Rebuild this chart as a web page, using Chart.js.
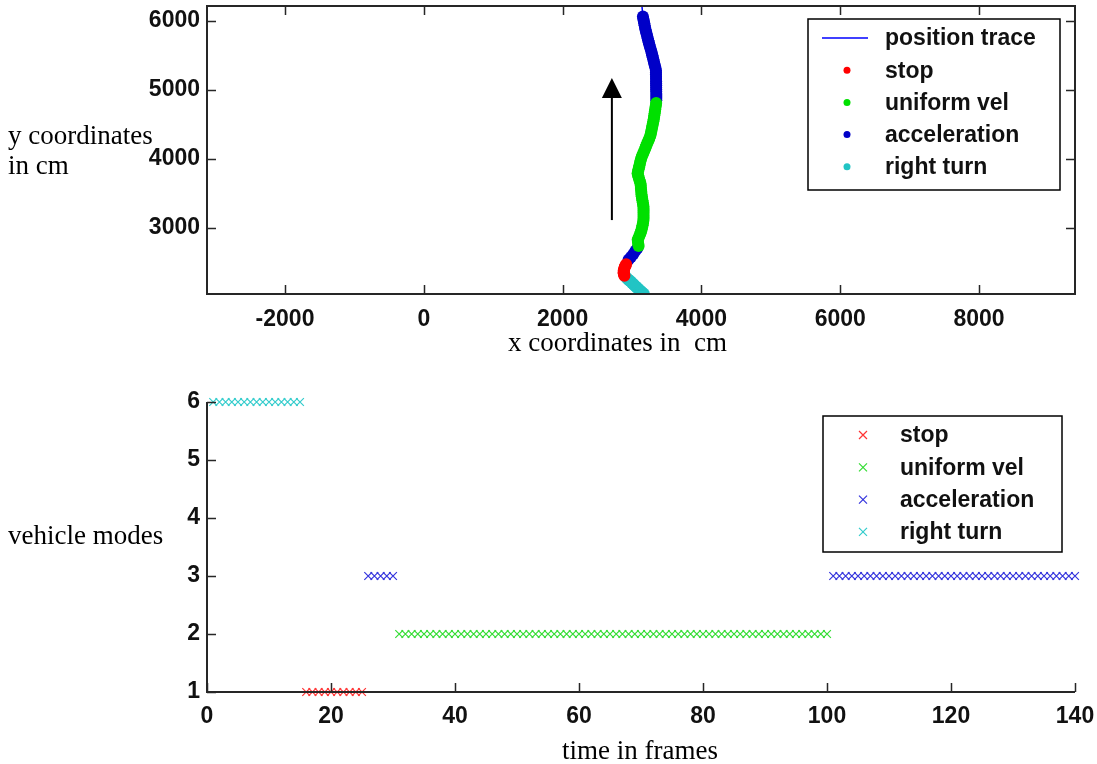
<!DOCTYPE html>
<html>
<head>
<meta charset="utf-8">
<script src="https://cdn.jsdelivr.net/npm/chart.js@4.4.0/dist/chart.umd.min.js"></script>
<style>
  body { margin: 0; background: #fff; width: 1097px; height: 764px; position: relative; overflow: hidden; }
  .wrap { position: absolute; left: 0; width: 1097px; }
  .lbl { position: absolute; font-family: "Liberation Serif", "Times New Roman", serif; font-size: 27px; line-height: 30px; color: #000; white-space: pre; }
</style>
</head>
<body>
<div class="wrap" style="top:0;height:360px"><canvas id="posChart"></canvas></div>
<div class="wrap" style="top:370px;height:394px"><canvas id="modeChart"></canvas></div>
<div class="lbl" style="left:8px;top:120px">y coordinates
in cm</div>
<div class="lbl" style="left:508px;top:327px">x coordinates in  cm</div>
<div class="lbl" style="left:8px;top:520px">vehicle modes</div>
<div class="lbl" style="left:562px;top:735px">time in frames</div>
<script>
// mode of each frame: 1 stop, 2 uniform vel, 3 acceleration, 6 right turn
const frameModes = [
  6, 6, 6, 6, 6, 6, 6, 6, 6, 6,
  6, 6, 6, 6, 6, 1, 1, 1, 1, 1,
  1, 1, 1, 1, 1, 3, 3, 3, 3, 3,
  2, 2, 2, 2, 2, 2, 2, 2, 2, 2,
  2, 2, 2, 2, 2, 2, 2, 2, 2, 2,
  2, 2, 2, 2, 2, 2, 2, 2, 2, 2,
  2, 2, 2, 2, 2, 2, 2, 2, 2, 2,
  2, 2, 2, 2, 2, 2, 2, 2, 2, 2,
  2, 2, 2, 2, 2, 2, 2, 2, 2, 2,
  2, 2, 2, 2, 2, 2, 2, 2, 2, 2,
  3, 3, 3, 3, 3, 3, 3, 3, 3, 3,
  3, 3, 3, 3, 3, 3, 3, 3, 3, 3,
  3, 3, 3, 3, 3, 3, 3, 3, 3, 3,
  3, 3, 3, 3, 3, 3, 3, 3, 3, 3
];

// vehicle position per frame (cm)
const posX = [
  3170, 3150, 3130, 3110, 3090, 3070, 3055, 3035, 3020, 3000,
  2980, 2960, 2945, 2925, 2905, 2890, 2885, 2880, 2880, 2880,
  2885, 2890, 2895, 2905, 2915, 2950, 2985, 3020, 3050, 3080,
  3095, 3090, 3085, 3082, 3095, 3108, 3120, 3130, 3138, 3145,
  3152, 3158, 3163, 3166, 3166, 3166, 3166, 3166, 3166, 3165,
  3160, 3155, 3150, 3145, 3140, 3136, 3134, 3131, 3128, 3126,
  3123, 3115, 3105, 3097, 3088, 3080, 3087, 3094, 3101, 3108,
  3115, 3122, 3130, 3140, 3152, 3165, 3177, 3190, 3200, 3212,
  3225, 3238, 3250, 3263, 3270, 3276, 3282, 3288, 3294, 3300,
  3307, 3312, 3317, 3321, 3326, 3330, 3335, 3339, 3344, 3348,
  3350, 3350, 3350, 3350, 3349, 3349, 3348, 3348, 3347, 3347,
  3346, 3346, 3345, 3345, 3345, 3338, 3330, 3322, 3315, 3308,
  3300, 3292, 3285, 3277, 3268, 3258, 3250, 3242, 3234, 3226,
  3218, 3210, 3202, 3195, 3188, 3182, 3176, 3170, 3163, 3157
];
const posY = [
  2050, 2065, 2085, 2100, 2120, 2135, 2155, 2170, 2190, 2205,
  2225, 2240, 2255, 2275, 2295, 2310, 2330, 2345, 2360, 2380,
  2395, 2415, 2435, 2455, 2475, 2540, 2580, 2625, 2670, 2710,
  2740, 2770, 2800, 2830, 2860, 2890, 2920, 2950, 2980, 3010,
  3040, 3070, 3100, 3130, 3160, 3190, 3220, 3250, 3280, 3310,
  3340, 3370, 3400, 3430, 3460, 3490, 3520, 3550, 3580, 3610,
  3640, 3670, 3700, 3730, 3760, 3790, 3820, 3850, 3880, 3910,
  3940, 3970, 4000, 4030, 4060, 4090, 4120, 4150, 4180, 4210,
  4240, 4270, 4300, 4330, 4360, 4390, 4420, 4450, 4480, 4510,
  4540, 4570, 4600, 4630, 4660, 4690, 4720, 4750, 4780, 4810,
  4850, 4880, 4910, 4940, 4975, 5005, 5035, 5065, 5095, 5125,
  5160, 5190, 5220, 5250, 5280, 5315, 5345, 5375, 5405, 5435,
  5470, 5500, 5530, 5560, 5590, 5625, 5655, 5685, 5715, 5745,
  5780, 5810, 5840, 5870, 5900, 5935, 5965, 5995, 6025, 6060
];
// trace keeps going past the last marked frame
const traceTailX = [3135];
const traceTailY = [6300];

const modeNames = ['stop', 'uniform vel', 'acceleration', 'right turn'];
const modeCodes = [1, 2, 3, 6];

const xTicksTop = [-2000, 0, 2000, 4000, 6000, 8000];
const yTicksTop = [3000, 4000, 5000, 6000];
const xTicksBottom = [0, 20, 40, 60, 80, 100, 120, 140];
const yTicksBottom = [1, 2, 3, 4, 5, 6];

// direction arrow (data coords)
const arrowX = 2710, arrowFromY = 3115, arrowToY = 5170;

const dotColors = ['#ff0000', '#00e000', '#0000c8', '#22c4c4'];
const crossColors = ['#ff3333', '#33dd33', '#3333dd', '#33cccc'];
const axisColor = '#262626';
const tickFont = { family: '"Liberation Sans", Arial, sans-serif', size: 23, weight: 'bold' };

const frames = frameModes.map((m, i) => i + 1);
const tracePts = posX.map((x, i) => ({ x: x, y: posY[i] }))
  .concat(traceTailX.map((x, i) => ({ x: x, y: traceTailY[i] })));
function posFor(code) {
  return posX.map((x, i) => ({ x: x, y: posY[i], m: frameModes[i] })).filter(p => p.m === code);
}
function modeFor(code) {
  return frames.map((f, i) => ({ x: f, y: frameModes[i] })).filter(p => p.y === code);
}

function axisOpts(min, max, ticks, isY, size, pad) {
  return {
    type: 'linear',
    min: min,
    max: max,
    grid: { display: false, drawTicks: false },
    border: { display: false },
    ticks: { color: '#111', padding: pad, font: tickFont, maxRotation: 0, autoSkip: false, callback: v => String(v) },
    afterBuildTicks: s => { s.ticks = ticks.map(v => ({ value: v })); },
    afterFit: s => {
      if (isY) s.width = size; else s.height = size;
      s.paddingTop = 0; s.paddingBottom = 0; s.paddingLeft = 0; s.paddingRight = 0;
    }
  };
}

// axis lines and inward tick marks, matlab style
const axisFrame = {
  id: 'axisFrame',
  afterDraw(chart, args, o) {
    const ctx = chart.ctx, a = chart.chartArea, x = chart.scales.x, y = chart.scales.y;
    const len = 9;
    ctx.save();
    ctx.strokeStyle = axisColor;
    ctx.lineWidth = 1.5;
    ctx.beginPath();
    x.ticks.forEach(t => {
      const px = Math.round(x.getPixelForValue(t.value)) + 0.5;
      ctx.moveTo(px, a.bottom); ctx.lineTo(px, a.bottom - len);
      if (o.box) { ctx.moveTo(px, a.top); ctx.lineTo(px, a.top + len); }
    });
    y.ticks.forEach(t => {
      const py = Math.round(y.getPixelForValue(t.value)) + 0.5;
      ctx.moveTo(a.left, py); ctx.lineTo(a.left + len, py);
      if (o.box) { ctx.moveTo(a.right, py); ctx.lineTo(a.right - len, py); }
    });
    ctx.stroke();
    ctx.lineWidth = 2;
    ctx.beginPath();
    if (o.box) {
      ctx.rect(a.left, a.top, a.right - a.left, a.bottom - a.top);
    } else {
      ctx.moveTo(a.left, a.top); ctx.lineTo(a.left, a.bottom); ctx.lineTo(a.right, a.bottom);
    }
    ctx.stroke();
    ctx.restore();
  }
};

const boxLegend = {
  id: 'boxLegend',
  afterDraw(chart, args, o) {
    const ctx = chart.ctx;
    ctx.save();
    ctx.fillStyle = '#fff';
    ctx.fillRect(o.left, o.top, o.width, o.height);
    ctx.strokeStyle = '#000';
    ctx.lineWidth = 1.5;
    ctx.strokeRect(o.left, o.top, o.width, o.height);
    ctx.font = 'bold 23px "Liberation Sans", Arial, sans-serif';
    ctx.textBaseline = 'middle';
    chart.data.datasets.forEach((ds, i) => {
      const y = o.firstRow + i * o.rowGap;
      const c = ds.borderColor;
      if (ds.legendKind === 'line') {
        ctx.strokeStyle = c; ctx.lineWidth = 1.5;
        ctx.beginPath(); ctx.moveTo(o.symX - 25, y); ctx.lineTo(o.symX + 21, y); ctx.stroke();
      } else if (ds.legendKind === 'dot') {
        ctx.fillStyle = ds.backgroundColor;
        ctx.beginPath(); ctx.arc(o.symX, y, 3.5, 0, Math.PI * 2); ctx.fill();
      } else {
        ctx.strokeStyle = c; ctx.lineWidth = 1.2;
        ctx.beginPath();
        ctx.moveTo(o.symX - 4, y - 4); ctx.lineTo(o.symX + 4, y + 4);
        ctx.moveTo(o.symX - 4, y + 4); ctx.lineTo(o.symX + 4, y - 4);
        ctx.stroke();
      }
      ctx.fillStyle = '#111';
      ctx.fillText(ds.label, o.textX, y + 1);
    });
    ctx.restore();
  }
};

const arrowMark = {
  id: 'arrowMark',
  afterDatasetsDraw(chart) {
    const ctx = chart.ctx, x = chart.scales.x, y = chart.scales.y;
    const px = x.getPixelForValue(arrowX);
    const y0 = y.getPixelForValue(arrowFromY), y1 = y.getPixelForValue(arrowToY);
    ctx.save();
    ctx.strokeStyle = '#000';
    ctx.fillStyle = '#000';
    ctx.lineWidth = 2;
    ctx.beginPath(); ctx.moveTo(px, y0); ctx.lineTo(px, y1 + 18); ctx.stroke();
    ctx.beginPath(); ctx.moveTo(px, y1); ctx.lineTo(px - 10, y1 + 20); ctx.lineTo(px + 10, y1 + 20); ctx.closePath(); ctx.fill();
    ctx.restore();
  }
};

// Position chart (top)
const posDatasets = [{
  label: 'position trace',
  legendKind: 'line',
  data: tracePts,
  showLine: true,
  borderColor: '#0000ff',
  borderWidth: 1.5,
  pointRadius: 0,
  order: 10
}].concat(modeCodes.map((code, k) => ({
  label: modeNames[k],
  legendKind: 'dot',
  data: posFor(code),
  backgroundColor: dotColors[k],
  borderColor: dotColors[k],
  borderWidth: 0,
  pointRadius: 6,
  order: 1 + k
})));

new Chart(document.getElementById('posChart'), {
  type: 'scatter',
  data: { datasets: posDatasets },
  options: {
    responsive: true,
    maintainAspectRatio: false,
    animation: false,
    layout: { padding: { top: 6, right: 22, left: 0, bottom: 0 } },
    scales: {
      x: axisOpts(-3124, 9383, xTicksTop, false, 66, 12),
      y: axisOpts(2045, 6213, yTicksTop, true, 207, 7)
    },
    plugins: {
      legend: { display: false },
      tooltip: { enabled: false },
      axisFrame: { box: true },
      boxLegend: { left: 808, top: 19, width: 252, height: 171, firstRow: 38, rowGap: 32.2, symX: 847, textX: 885 }
    }
  },
  plugins: [axisFrame, arrowMark, boxLegend]
});

// Mode chart (bottom)
new Chart(document.getElementById('modeChart'), {
  type: 'scatter',
  data: {
    datasets: modeCodes.map((code, k) => ({
      label: modeNames[k],
      legendKind: 'cross',
      data: modeFor(code),
      pointStyle: 'crossRot',
      pointRadius: 5.5,
      borderWidth: 1.2,
      borderColor: crossColors[k],
      backgroundColor: crossColors[k],
      clip: false
    }))
  },
  options: {
    responsive: true,
    maintainAspectRatio: false,
    animation: false,
    layout: { padding: { top: 32, right: 22, left: 0, bottom: 0 } },
    scales: {
      x: axisOpts(0, 140, xTicksBottom, false, 72, 11),
      y: axisOpts(1, 6, yTicksBottom, true, 207, 7)
    },
    plugins: {
      legend: { display: false },
      tooltip: { enabled: false },
      axisFrame: { box: false },
      boxLegend: { left: 823, top: 46, width: 239, height: 136, firstRow: 65, rowGap: 32.3, symX: 863, textX: 900 }
    }
  },
  plugins: [axisFrame, boxLegend]
});
</script>
</body>
</html>
